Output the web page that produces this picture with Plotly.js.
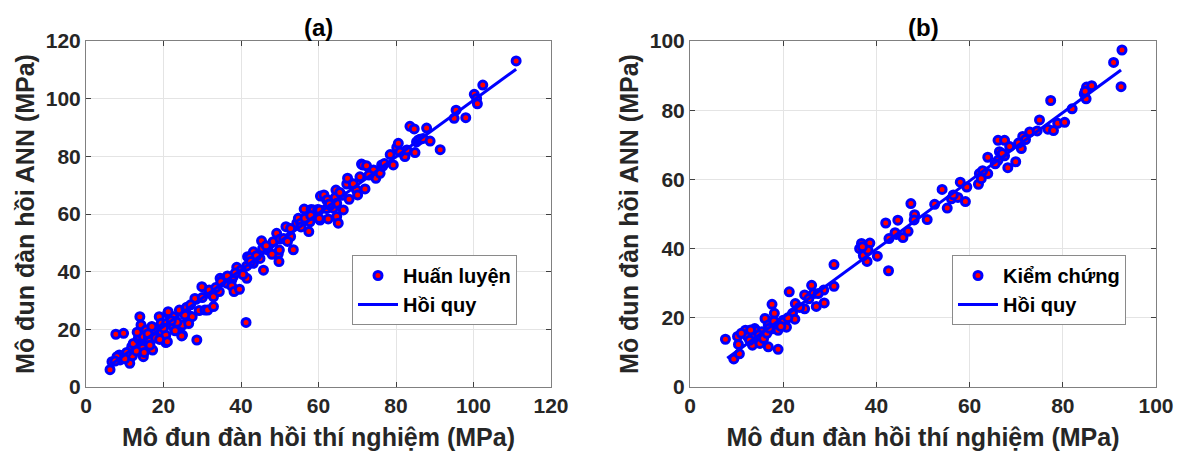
<!DOCTYPE html>
<html>
<head>
<meta charset="utf-8">
<script src="https://cdn.plot.ly/plotly-3.0.1.min.js"></script>
<style>html,body{margin:0;padding:0;background:#fff;}#chart{width:1181px;height:457px;}</style>
</head>
<body>
<div id="chart"></div>
<script>
// ---- Data: (a) training set ----
const trainX = [6.2,6.7,7.7,9.7,8.6,8.8,9.5,11.3,12,12,11.8,12.2,13.5,13.8,13.9,14.2,14.8,14.6,14.8,15.5,15.9,16.1,17.2,17.6,18.9,19.4,19.5,20.6,20.6,21.1,21,10.5,13,16.5,18,15,19,17,13.2,16,10,8,7.5,
22.5,22.8,22.5,24.9,24.9,24.7,24.1,25.8,26,26.8,27.4,28.6,28.4,28.1,29.9,29.2,30.7,31.4,31.6,31.8,32.9,32.9,34.6,34.4,36.3,20.8,21.2,23.5,25.5,27,23,26.5,30,33.5,35.5,20,22,
37.6,37.6,38.2,39.6,38.9,38,41.5,41.7,41.5,41.3,43.2,43.2,42.3,44.9,45.3,45.6,45.8,48.3,49.2,49.6,49.8,49.9,50.1,51.6,52.8,52.8,53.5,54.4,54.8,55.4,56.3,57.5,57.8,58.1,58.7,36.5,40,44,47,46.5,51,55.5,40.5,48,52,56.5,34.8,38.5,42.5,
59.8,60.3,60.4,60.2,60.5,61.4,62.1,62.3,62.1,62.5,63.8,64.5,64.3,64.7,64.7,65.1,66.4,67.3,67.5,67.9,69.2,69.8,70.1,70.7,71.1,71.4,72.4,72,74,74.2,74.8,75.9,76.3,76.5,78.5,79.3,80.2,80.6,82.3,82.8,83.6,84.7,84.9,85.3,85.8,86.2,87,87.9,88.8,91.4,95.5,95,98,100.2,100.8,101,102.4,111,63,66,69,73,77,81,65.5,62.8,58];
const trainY = [6.0,8.8,18.3,18.6,11.1,9.4,10.2,8.2,13.4,10.8,14,15.1,16.9,17.5,24.4,21.5,10.5,13.4,17.5,19.8,15.7,16.9,12.8,19.5,24.4,22.1,19.2,15.4,18,25.5,15.7,12,12.5,14.5,17,12,16.5,21,19,18.5,9.8,10.5,9,
20.9,23.8,24.4,18,21.5,17.7,26.7,27.3,27.7,24.6,24.4,16.3,30.4,30.7,34.8,26.5,26.7,26.7,32.5,33.6,27.9,31.3,37.7,33.1,36,22.1,26.1,22.5,25,28.5,19.5,22,31,34.5,37.5,20.5,23,
37,35,33.1,33.9,41.5,38.3,42,45.2,37.7,22.4,46.9,42.9,44.9,44.6,50.7,48.1,40.5,50.4,53.3,46.1,43.5,47.5,51.3,55.6,52.2,55,47.6,56.8,58.5,56.8,61.7,53.9,57.3,61.6,61.4,38.5,40.5,45.5,47.5,49,51.5,55.5,39,46,50.5,58.5,36.5,39.5,43.5,
61.6,61.4,57.9,58.4,66.2,66.6,64.8,64.9,61.9,58.3,62,68.3,65.7,63.7,59.1,56.8,61.4,70.4,72.4,65.1,69.5,68.3,66.6,72.9,77.3,77,76.7,68.7,74.7,75.3,72.4,74.1,77,76.5,80.6,77,83.1,84.5,79.9,82.2,90.4,89.5,81.3,85,85.7,85.9,86.2,89.8,85.3,82.3,96,93.2,93.4,101.5,100.1,98.2,104.7,113.1,63,66.5,70.5,73.5,77.5,81.5,67.5,63.5,59.5];
const trainFitX = [6, 111];
const trainFitY = [7.3, 110.2];

// ---- Data: (b) validation set ----
const testX = [7.6,9.4,10.6,10.2,10.4,11.9,12.4,13.4,13.9,13.9,15,14.3,15.4,16.1,16.8,16.8,17.6,18.1,17.7,18.9,18.9,18.6,20,20.7,21.3,22,22.5,22.6,24.6,24.6,26.1,26.5,27.1,28.7,28.8,30.9,30.9,36.4,36.8,37.5,38,38.6,40.2,42,42.7,42.6,44.3,44.6,45.7,46.8,47.4,48.2,48.1,50.9,52.5,54.1,55.2,56.1,57.5,58,59.1,59.4,61.9,62.1,62.5,63.9,63.9,66.1,66.1,66.4,67.5,67.5,68.2,68.6,69.9,71.1,71.4,72.9,74.5,75,76.8,78,77.4,78.9,80.4,82,84.6,85,85.1,86.2,90.9,92.7,92.5,
11,12.8,14.8,15.8,16.5,19.5,21,23.5,25.5,27.5,37.2,38.2,37,44,56.5,62.8,65.5,67,70.5,72,84.8,13,17,18];
const testY = [13.8,8.1,9.6,14.6,12.3,16.4,14.5,12.1,16.9,14.5,12.6,16.2,16,19.8,11.6,17.9,23.9,21.3,16.8,10.9,16.4,18.4,19.3,17.3,27.5,21.3,19.6,24.1,22.6,26.6,29.4,27,23.3,28,24.3,29.1,35.4,40,41.5,39,36.3,41.6,37.8,47.4,42.9,33.6,44.1,48.2,43.2,45,53,49.8,48.3,48.4,52.8,57.1,51.7,54.4,54.8,59.2,53.6,57.8,58.6,61.7,60.2,61.7,66.4,65.5,71.3,68,71.3,66.8,63.4,69.5,65.1,68.9,72.4,73.7,74,77.2,74.5,74.1,82.8,76.2,76.5,80.4,84.7,83.3,86.7,87.1,93.8,97.4,86.8,
15.5,13.5,15,14,15.5,17.5,20,23,25.5,27,38,39.5,40.5,44.6,55.5,62.5,64.5,67.5,70.5,71.5,85.5,16.5,17,19];
const testFitX = [8, 92.5];
const testFitY = [8.3, 91.6];

const legendA = ['Huấn luyện', 'Hồi quy'];
const legendB = ['Kiểm chứng', 'Hồi quy'];
const xTitle = 'Mô đun đàn hồi thí nghiệm (MPa)';
const yTitle = 'Mô đun đàn hồi ANN (MPa)';
const panelTitles = ['(a)', '(b)'];

const FONT = 'Liberation Sans, Arial, Helvetica, sans-serif';
const TXT = '#262626';
const markerStyle = {color: '#ff0000', size: 8, line: {color: '#0000ff', width: 3}};
const lineStyle = {color: '#0000ff', width: 3};

const traces = [
  {x: trainX, y: trainY, type: 'scatter', mode: 'markers', name: legendA[0], marker: markerStyle, xaxis: 'x', yaxis: 'y', legend: 'legend'},
  {x: trainFitX, y: trainFitY, type: 'scatter', mode: 'lines', name: legendA[1], line: lineStyle, xaxis: 'x', yaxis: 'y', legend: 'legend'},
  {x: testX, y: testY, type: 'scatter', mode: 'markers', name: legendB[0], marker: markerStyle, xaxis: 'x2', yaxis: 'y2', legend: 'legend2'},
  {x: testFitX, y: testFitY, type: 'scatter', mode: 'lines', name: legendB[1], line: lineStyle, xaxis: 'x2', yaxis: 'y2', legend: 'legend2'}
];

const titleFont = {family: FONT, size: 25, color: TXT, weight: 'bold'};

function axisBase(extra) {
  return Object.assign({
    showgrid: true, gridcolor: '#e4e4e4', gridwidth: 1,
    showline: true, linecolor: '#808080', linewidth: 1, mirror: 'ticks',
    ticks: 'inside', ticklen: 5, tickcolor: '#404040', tickwidth: 1,
    zeroline: false, automargin: false,
    tickfont: {family: FONT, size: 21, color: TXT, weight: 'bold'}
  }, extra);
}

const plotL = 86, plotR = 25, plotT = 41, plotB = 70;
const W = 1181, H = 457;
const pw = W - plotL - plotR, ph = H - plotT - plotB;

const layout = {
  width: W, height: H,
  margin: {l: plotL, r: plotR, t: plotT, b: plotB},
  paper_bgcolor: '#ffffff', plot_bgcolor: '#ffffff',
  font: {family: FONT, color: TXT},
  showlegend: true,
  xaxis: axisBase({domain: [0, (551 - plotL) / pw], range: [0, 120], dtick: 20, anchor: 'y',
    title: {text: xTitle, font: titleFont, standoff: 12}}),
  yaxis: axisBase({domain: [0, 1], range: [0, 120], dtick: 20, anchor: 'x',
    title: {text: yTitle, font: titleFont, standoff: 4}}),
  xaxis2: axisBase({domain: [(690 - plotL) / pw, 1], range: [0, 100], dtick: 20, anchor: 'y2',
    title: {text: xTitle, font: titleFont, standoff: 12}}),
  yaxis2: axisBase({domain: [0, 1], range: [0, 100], dtick: 20, anchor: 'x2',
    title: {text: yTitle, font: titleFont, standoff: 4}}),
  legend: {x: (352 - plotL) / pw, y: (387 - 255) / ph, xanchor: 'left', yanchor: 'top',
    bgcolor: '#ffffff', bordercolor: '#8a8a8a', borderwidth: 1, itemwidth: 40, tracegroupgap: 0,
    font: {family: FONT, size: 20, color: '#000', weight: 'bold'}},
  legend2: {x: (952 - plotL) / pw, y: (387 - 255) / ph, xanchor: 'left', yanchor: 'top',
    bgcolor: '#ffffff', bordercolor: '#8a8a8a', borderwidth: 1, itemwidth: 40, tracegroupgap: 0,
    font: {family: FONT, size: 20, color: '#000', weight: 'bold'}},
  annotations: [
    {text: panelTitles[0], xref: 'x domain', yref: 'paper', x: 0.5, y: (387 - 28) / ph, showarrow: false,
     xanchor: 'center', yanchor: 'middle', font: {family: FONT, size: 24, color: '#000', weight: 'bold'}},
    {text: panelTitles[1], xref: 'x2 domain', yref: 'paper', x: 0.5, y: (387 - 28) / ph, showarrow: false,
     xanchor: 'center', yanchor: 'middle', font: {family: FONT, size: 24, color: '#000', weight: 'bold'}}
  ]
};

Plotly.newPlot('chart', traces, layout, {displayModeBar: false, staticPlot: true});
</script>
</body>
</html>
